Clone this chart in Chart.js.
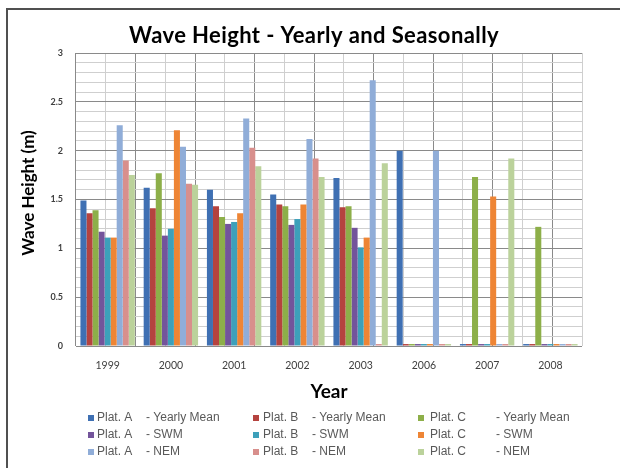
<!DOCTYPE html>
<html>
<head>
<meta charset="utf-8">
<script src="https://cdn.jsdelivr.net/npm/chart.js@4/dist/chart.umd.min.js"></script>
<style>
  html, body { margin: 0; padding: 0; background: #ffffff; }
  #wrap { width: 620px; height: 468px; position: relative; }
</style>
</head>
<body>
<div id="wrap"><canvas id="c" width="620" height="468"></canvas></div>
<script>
// ---- data ----
const years = ['1999', '2000', '2001', '2002', '2003', '2006', '2007', '2008'];
const platAYearly = [1.49, 1.62, 1.60, 1.55, 1.72, 2.00, 0.02, 0.02];
const platBYearly = [1.36, 1.41, 1.43, 1.45, 1.42, 0.02, 0.02, 0.02];
const platCYearly = [1.39, 1.77, 1.32, 1.43, 1.43, 0.02, 1.73, 1.22];
const platASWM    = [1.17, 1.13, 1.25, 1.24, 1.21, 0.02, 0.02, 0.02];
const platBSWM    = [1.11, 1.20, 1.27, 1.30, 1.01, 0.02, 0.02, 0.02];
const platCSWM    = [1.11, 2.21, 1.36, 1.45, 1.11, 0.02, 1.53, 0.02];
const platANEM    = [2.26, 2.04, 2.33, 2.12, 2.72, 2.00, 0.02, 0.02];
const platBNEM    = [1.90, 1.66, 2.03, 1.92, 0.02, 0.02, 0.02, 0.02];
const platCNEM    = [1.75, 1.65, 1.84, 1.73, 1.87, 0.02, 1.92, 0.02];

const platforms = ['Plat. A', 'Plat. B', 'Plat. C'];
const seasons = ['- Yearly Mean', '- SWM', '- NEM'];
const yTickValues = [0, 0.1, 0.2, 0.3, 0.4, 0.5, 0.6, 0.7, 0.8, 0.9, 1, 1.1, 1.2, 1.3, 1.4, 1.5, 1.6, 1.7, 1.8, 1.9, 2, 2.1, 2.2, 2.3, 2.4, 2.5, 2.6, 2.7, 2.8, 2.9, 3];
const halfCategoryLines = [0, 1, 2, 3, 4, 5, 6, 7, 8, 9, 10, 11, 12, 13, 14, 15, 16];

const seriesValues = [platAYearly, platBYearly, platCYearly, platASWM, platBSWM, platCSWM, platANEM, platBNEM, platCNEM];
const seriesColors = ['#3F70B3', '#B5433F', '#8DAF49', '#73549B', '#3DA0BA', '#EE8535', '#90ADD8', '#D88F8C', '#BBD29B'];

const datasets = seriesValues.map((vals, i) => ({
  label: platforms[i % 3] + ' ' + seasons[Math.floor(i / 3)],
  data: vals,
  backgroundColor: seriesColors[i],
  borderWidth: 0,
  categoryPercentage: 0.86,
  barPercentage: 1.0
}));

const isMajor = v => Math.abs(v * 2 - Math.round(v * 2)) < 1e-6;

const decor = {
  id: 'decor',
  beforeDraw(chart) {
    const ctx = chart.ctx;
    ctx.save();
    ctx.fillStyle = '#ffffff';
    ctx.fillRect(0, 0, chart.width, chart.height);
    ctx.restore();
  },
  afterDraw(chart) {
    const ctx = chart.ctx;
    ctx.save();
    // outer frame
    ctx.strokeStyle = '#505050';
    ctx.lineWidth = 2;
    ctx.beginPath();
    ctx.moveTo(7, 470);
    ctx.lineTo(7, 9);
    ctx.lineTo(622, 9);
    ctx.stroke();
    // title
    ctx.fillStyle = '#000000';
    ctx.font = 'bold 22px Lato';
    if ('letterSpacing' in ctx) ctx.letterSpacing = '0.4px';
    ctx.textAlign = 'center';
    ctx.textBaseline = 'middle';
    ctx.fillText('Wave Height - Yearly and Seasonally', 314, 36);
    if ('letterSpacing' in ctx) ctx.letterSpacing = '0px';
    // y axis title
    ctx.save();
    ctx.translate(29, 193);
    ctx.rotate(-Math.PI / 2);
    ctx.font = 'bold 17px Lato';
    ctx.fillText('Wave Height (m)', 0, 0);
    ctx.restore();
    // legend (3 columns x 3 rows)
    const boxX = [88, 253, 418];
    const platX = [97, 263, 430];
    const kindX = [146, 312, 496];
    const rowY = [418, 435, 452];
    ctx.font = '12px "Liberation Sans"';
    ctx.textAlign = 'left';
    chart.data.datasets.forEach((ds, i) => {
      const col = i % 3, row = Math.floor(i / 3);
      const y = rowY[row];
      ctx.fillStyle = ds.backgroundColor;
      ctx.fillRect(boxX[col], y - 3, 6, 6);
      ctx.fillStyle = '#595959';
      ctx.fillText(platforms[col], platX[col], y);
      ctx.fillText(seasons[row], kindX[col], y);
    });
    ctx.restore();
  }
};

new Chart(document.getElementById('c'), {
  type: 'bar',
  data: { labels: years, datasets: datasets },
  options: {
    responsive: false,
    animation: false,
    devicePixelRatio: 1,
    layout: { padding: { left: 18, top: 53, right: 38, bottom: 58 } },
    plugins: {
      legend: { display: false },
      title: { display: false },
      tooltip: { enabled: false }
    },
    scales: {
      x: {
        type: 'category',
        offset: true,
        grid: { display: false, drawTicks: false },
        border: { display: false },
        ticks: {
          color: '#404040',
          font: { family: 'Lato', size: 10.5 },
          padding: 13,
          maxRotation: 0
        },
        title: {
          display: true,
          text: 'Year',
          color: '#000000',
          font: { family: 'Lato', size: 19, weight: 'bold' },
          padding: { top: 0, bottom: 7 }
        },
        afterFit(scale) { scale.height = 64; }
      },
      x2: {
        type: 'linear',
        position: 'top',
        min: 0,
        max: 16,
        afterBuildTicks(scale) { scale.ticks = halfCategoryLines.map(v => ({ value: v })); },
        ticks: { display: false, autoSkip: false },
        grid: {
          drawTicks: false,
          color: c => (c.tick && c.tick.value % 2 === 0) ? '#8a8a8a' : '#cfcfcf',
          lineWidth: 1
        },
        border: { display: false },
        afterFit(scale) { scale.height = 0; }
      },
      y: {
        type: 'linear',
        min: 0,
        max: 3,
        afterBuildTicks(scale) { scale.ticks = yTickValues.map(v => ({ value: v })); },
        ticks: {
          autoSkip: false,
          color: '#404040',
          font: { family: 'Lato', size: 9, weight: 'bold' },
          padding: 13,
          callback: v => isMajor(v) ? String(Math.round(v * 10) / 10) : ''
        },
        grid: {
          drawTicks: false,
          color: c => (c.tick && isMajor(c.tick.value)) ? '#8a8a8a' : '#cfcfcf',
          lineWidth: 1
        },
        border: { display: false },
        title: { display: false },
        afterFit(scale) { scale.width = 58; }
      }
    }
  },
  plugins: [decor]
});
</script>
</body>
</html>
